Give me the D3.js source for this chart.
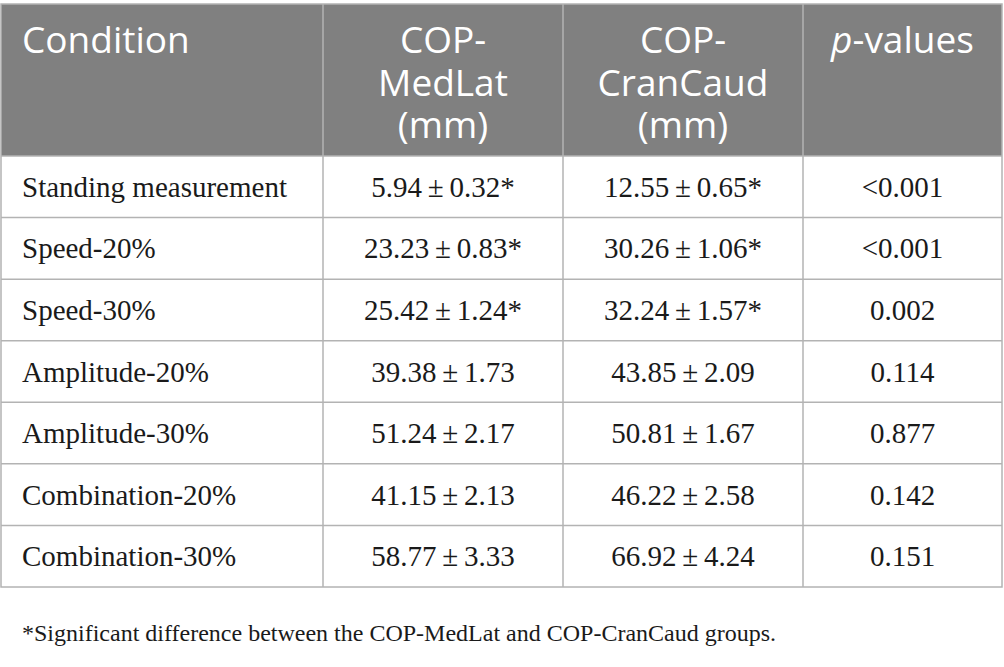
<!DOCTYPE html>
<html>
<head>
<meta charset="utf-8">
<script src="https://cdn.jsdelivr.net/npm/d3@7"></script>
<style>
  body { margin: 0; background: #fff; }
</style>
</head>
<body>
<script>
// table data
var conditions = ["Standing measurement", "Speed-20%", "Speed-30%", "Amplitude-20%",
    "Amplitude-30%", "Combination-20%", "Combination-30%"];
var medLatMean = [5.94, 23.23, 25.42, 39.38, 51.24, 41.15, 58.77];
var medLatSD = [0.32, 0.83, 1.24, 1.73, 2.17, 2.13, 3.33];
var cranCaudMean = [12.55, 30.26, 32.24, 43.85, 50.81, 46.22, 66.92];
var cranCaudSD = [0.65, 1.06, 1.57, 2.09, 1.67, 2.58, 4.24];
var significant = [true, true, true, false, false, false, false];
var pValues = ["<0.001", "<0.001", "0.002", "0.114", "0.877", "0.142", "0.151"];
var headers = [["Condition"], ["COP-", "MedLat", "(mm)"], ["COP-", "CranCaud", "(mm)"], ["p-values"]];
var footnote = "*Significant difference between the COP-MedLat and COP-CranCaud groups.";

var width = 1004, height = 667;
var colEdges = [1, 323, 563, 803, 1002];
var headTop = 4, headBottom = 156, tableBottom = 587;
var lineColor = "#b3b3b3";

var svg = d3.select("body").append("svg")
    .attr("width", width)
    .attr("height", height);

var y = d3.scaleBand()
    .domain(conditions)
    .range([headBottom, tableBottom]);

var fmt = d3.format(".2f");
var rows = conditions.map(function (c, i) {
    return [
        c,
        fmt(medLatMean[i]) + "\u2009±\u2009" + fmt(medLatSD[i]) + (significant[i] ? "*" : ""),
        fmt(cranCaudMean[i]) + "\u2009±\u2009" + fmt(cranCaudSD[i]) + (significant[i] ? "*" : ""),
        pValues[i]
    ];
});

// header
svg.append("rect")
    .attr("x", colEdges[0])
    .attr("y", headTop)
    .attr("width", colEdges[4] - colEdges[0])
    .attr("height", headBottom - headTop)
    .attr("fill", "#808080");

var head = svg.append("g")
    .attr("fill", "#fff")
    .style("font-family", "'Open Sans', sans-serif")
    .style("font-size", "37px");

headers.forEach(function (lines, j) {
    var cx = j == 0 ? 22 : (colEdges[j] + colEdges[j + 1]) / 2;
    var t = head.append("text")
        .attr("x", cx)
        .attr("text-anchor", j == 0 ? "start" : "middle");
    lines.forEach(function (l, k) {
        var ts = t.append("tspan")
            .attr("x", cx)
            .attr("y", 53 + k * 42.5);
        if (l == "p-values") {
            ts.append("tspan").style("font-style", "italic").text("p");
            ts.append("tspan").text("-values");
        } else {
            ts.text(l);
        }
    });
});

// body rows
var body = svg.append("g")
    .attr("fill", "#1a1a1a")
    .style("font-family", "'Liberation Serif', 'Times New Roman', serif")
    .style("font-size", "29px");

rows.forEach(function (r, i) {
    var cy = y(conditions[i]) + y.bandwidth() / 2;
    r.forEach(function (v, j) {
        body.append("text")
            .attr("x", j == 0 ? 22 : (colEdges[j] + colEdges[j + 1]) / 2)
            .attr("y", cy + 10)
            .attr("text-anchor", j == 0 ? "start" : "middle")
            .text(v);
    });
});

// grid lines
var grid = svg.append("g")
    .attr("stroke", lineColor)
    .attr("stroke-width", 1.5)
    .attr("fill", "none");

grid.append("rect")
    .attr("x", colEdges[0])
    .attr("y", headTop)
    .attr("width", colEdges[4] - colEdges[0])
    .attr("height", tableBottom - headTop);

grid.selectAll("line.h")
    .data(conditions)
    .join("line")
    .attr("class", "h")
    .attr("x1", colEdges[0])
    .attr("x2", colEdges[4])
    .attr("y1", function (d) { return y(d); })
    .attr("y2", function (d) { return y(d); });

grid.selectAll("line.v")
    .data(colEdges.slice(1, 4))
    .join("line")
    .attr("class", "v")
    .attr("x1", function (d) { return d; })
    .attr("x2", function (d) { return d; })
    .attr("y1", headTop)
    .attr("y2", tableBottom);

// footnote
svg.append("text")
    .attr("x", 22)
    .attr("y", 641)
    .attr("fill", "#1a1a1a")
    .style("font-family", "'Liberation Serif', 'Times New Roman', serif")
    .style("font-size", "24px")
    .text(footnote);
</script>
</body>
</html>
